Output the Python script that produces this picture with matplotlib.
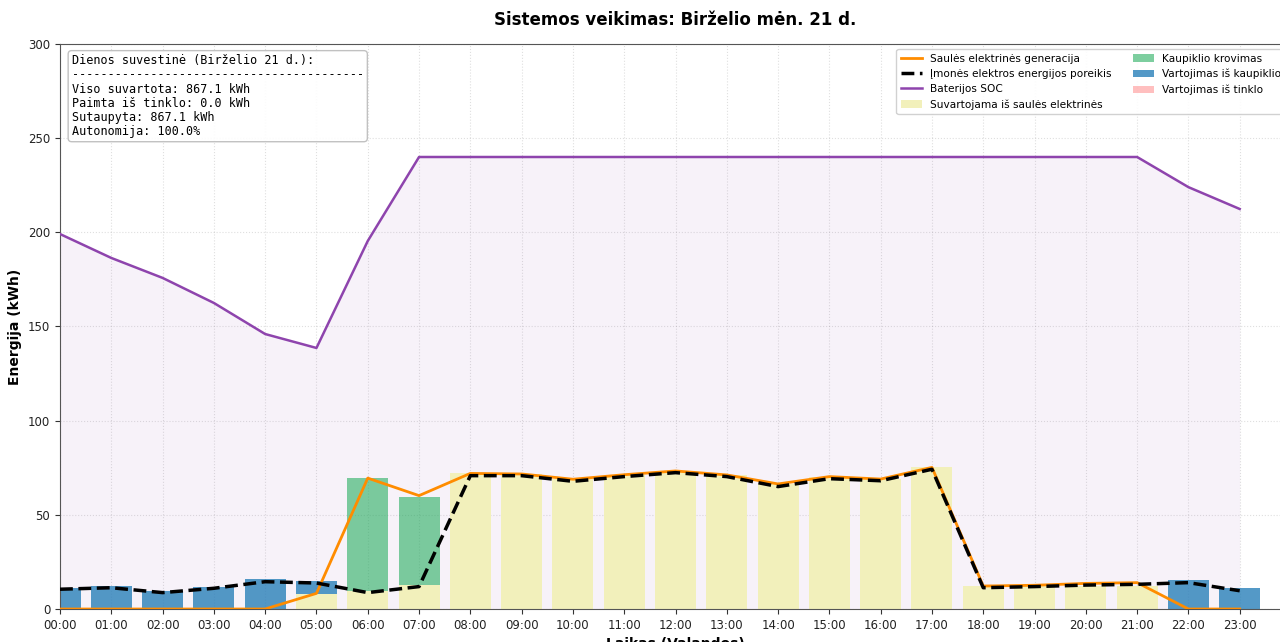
import matplotlib
matplotlib.use("Agg")
import matplotlib.pyplot as plt
import numpy as np

hours = list(range(24))
hour_labels = [f"{h:02d}:00" for h in hours]

solar_gen = [0, 0, 0, 0, 0, 8.3, 69.5, 60.2, 72.0, 71.7, 68.9, 71.3, 73.3, 71.2,
             66.4, 70.3, 69.0, 75.2, 12.2, 12.6, 13.6, 14.0, 0, 0]
demand = [10.5, 11.3, 8.7, 11.0, 14.5, 13.8, 8.7, 11.9, 70.8, 70.8, 67.8, 70.3,
          72.4, 70.3, 65.0, 69.2, 68.1, 74.2, 11.3, 11.9, 12.7, 13.1, 14.0, 9.7]
soc = [199.1, 186.4, 175.8, 162.5, 146.0, 138.6, 195.4, 240, 240, 240, 240, 240,
       240, 240, 240, 240, 240, 240, 240, 240, 240, 240, 224.0, 212.4]
solar_direct = [0, 0, 0, 0, 0, 8.0, 9.7, 12.7, 72.2, 71.7, 68.9, 71.3, 73.3, 71.2,
                66.4, 70.3, 69.0, 75.2, 12.4, 12.2, 12.4, 12.4, 0, 0]
charging = [0, 0, 0, 0, 0, 0, 59.8, 46.9, 0, 0, 0, 0, 0, 0, 0, 0, 0, 0, 0, 0, 0, 0, 0, 0]
discharge = [11.0, 12.4, 9.7, 11.9, 15.8, 7.0, 0, 0, 0, 0, 0, 0, 0, 0, 0, 0, 0, 0,
             0, 0, 0, 0, 15.4, 11.0]
grid = [0] * 24

summary = ("Dienos suvestinė (Birželio 21 d.):\n"
           "-----------------------------------------\n"
           "Viso suvartota: 867.1 kWh\n"
           "Paimta iš tinklo: 0.0 kWh\n"
           "Sutaupyta: 867.1 kWh\n"
           "Autonomija: 100.0%")

fig = plt.figure(figsize=(12.8, 6.42), dpi=100)
ax = fig.add_axes([60 / 1280, 33 / 642, 1231 / 1280, 565 / 642])

x = np.array(hours)
w = 0.8
sd = np.array(solar_direct)
ch = np.array(charging)
dis = np.array(discharge)
gr = np.array(grid)

ax.fill_between(x, 0, soc, color='#8e44ad', alpha=0.065, zorder=1, linewidth=0)

ax.bar(x, sd, w, color='#f2f0bb', zorder=2, label='Suvartojama iš saulės elektrinės')
ax.bar(x, ch, w, bottom=sd, color='#27ae60', alpha=0.6, zorder=2, label='Kaupiklio krovimas')
ax.bar(x, dis, w, bottom=sd + ch, color='#2980b9', alpha=0.8, zorder=2, label='Vartojimas iš kaupiklio')
ax.bar(x, gr, w, bottom=sd + ch + dis, color='red', alpha=0.25, zorder=2, label='Vartojimas iš tinklo')

ax.plot(x, solar_gen, color='#ff8c00', lw=2, zorder=4, label='Saulės elektrinės generacija')
ax.plot(x, demand, color='black', lw=2.5, ls='--', zorder=5, label='Įmonės elektros energijos poreikis')
ax.plot(x, soc, color='#8e44ad', lw=1.8, zorder=4, label='Baterijos SOC')

ax.set_xlim(0, 24)
ax.set_ylim(0, 300)
ax.set_xticks(hours)
ax.set_xticklabels(hour_labels, fontsize=8.5)
ax.set_yticks([0, 50, 100, 150, 200, 250, 300])
ax.tick_params(axis='y', labelsize=8.5)
ax.tick_params(colors='#333333', labelcolor='#222222')
ax.grid(True, linestyle=':', alpha=0.25, color='gray', linewidth=0.8)
ax.set_axisbelow(True)
for s in ax.spines.values():
    s.set_color('#555555')

ax.set_xlabel('Laikas (Valandos)', fontsize=10, fontweight='bold')
ax.set_ylabel('Energija (kWh)', fontsize=10, fontweight='bold')
ax.set_title('Sistemos veikimas: Birželio mėn. 21 d.', fontsize=12, fontweight='bold', pad=14)

handles, labels = ax.get_legend_handles_labels()
order = ['Saulės elektrinės generacija', 'Įmonės elektros energijos poreikis', 'Baterijos SOC',
         'Suvartojama iš saulės elektrinės', 'Kaupiklio krovimas', 'Vartojimas iš kaupiklio',
         'Vartojimas iš tinklo']
hmap = dict(zip(labels, handles))
ax.legend([hmap[o] for o in order], order, loc='upper right', ncol=2, fontsize=7.6,
          framealpha=0.9)

ax.text(0.0095, 0.982, summary, transform=ax.transAxes, va='top', ha='left',
        family='DejaVu Sans Mono', fontsize=8.5, linespacing=1.12,
        bbox=dict(boxstyle='round,pad=0.3', facecolor='white', edgecolor='#bbbbbb', alpha=0.9),
        zorder=10)

fig.savefig('out.png', dpi=100)
